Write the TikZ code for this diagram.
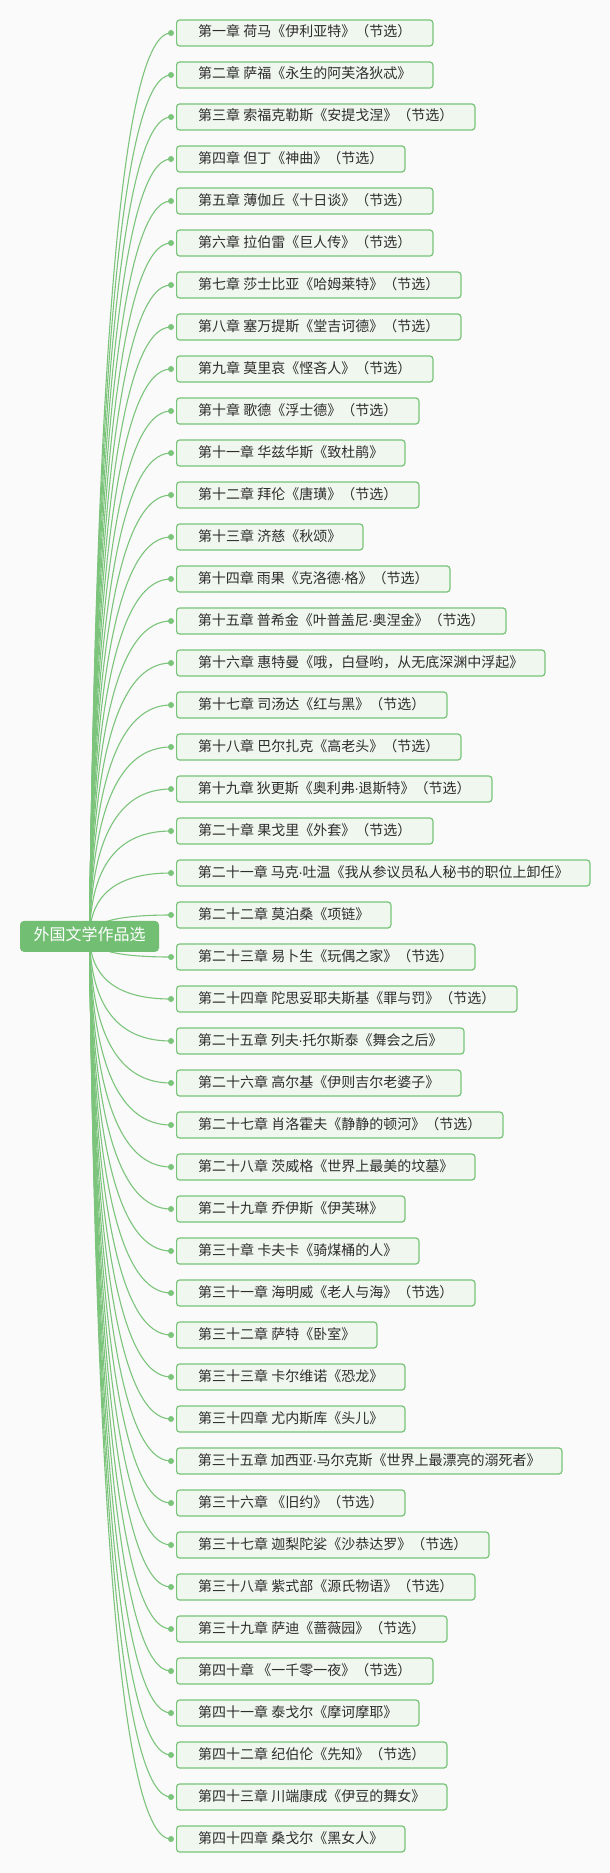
\documentclass[tikz,border=0pt]{standalone}
\usepackage{fontspec}
\setmainfont{Noto Sans CJK SC}
\newfontfamily\latinfont{Liberation Sans}
\newcommand\zdot{{\latinfont\kern-0.5pt·\kern-0.5pt}}
\usetikzlibrary{backgrounds}
\definecolor{bgcol}{RGB}{250,250,250}
\definecolor{conncol}{RGB}{124,196,124}
\definecolor{boxline}{RGB}{120,196,120}
\definecolor{boxfill}{RGB}{240,247,238}
\definecolor{rootfill}{RGB}{114,191,116}
\definecolor{txtcol}{RGB}{45,45,45}
\pgfdeclarelayer{bglayer}
\pgfdeclarelayer{lines}
\pgfsetlayers{bglayer,lines,main}
\tikzset{
  chapter/.style={draw=boxline, fill=boxfill, line width=1.2pt, rounded corners=3pt,
    minimum height=26pt, inner sep=0pt, anchor=west, text=txtcol,
    font=\fontsize{14}{16}\selectfont, text height=11pt, text depth=3pt},
  root/.style={fill=rootfill, rounded corners=4pt, minimum width=139pt, minimum height=31pt,
    inner sep=0pt, text=white, font=\fontsize{16}{18}\selectfont, text height=12.5pt, text depth=3.5pt},
  dotnode/.style={circle, fill=conncol, inner sep=0pt, minimum size=6pt},
  conn/.style={draw=conncol, line width=1.1pt}
}
\begin{document}
\begin{tikzpicture}[x=1pt,y=-1pt]
\begin{pgfonlayer}{bglayer}
\fill[bgcol] (0,0) rectangle (610,1873);
\end{pgfonlayer}
\useasboundingbox (0,0) rectangle (610,1873);
\node[root] (c) at (89.5,936.4) {外国文学作品选};
\foreach \i/\w/\t in {
1/432.3/{第一章 荷马《伊利亚特》（节选）},
2/432.3/{第二章 萨福《永生的阿芙洛狄忒》},
3/474.3/{第三章 索福克勒斯《安提戈涅》（节选）},
4/404.3/{第四章 但丁《神曲》（节选）},
5/432.3/{第五章 薄伽丘《十日谈》（节选）},
6/432.3/{第六章 拉伯雷《巨人传》（节选）},
7/460.3/{第七章 莎士比亚《哈姆莱特》（节选）},
8/460.3/{第八章 塞万提斯《堂吉诃德》（节选）},
9/432.3/{第九章 莫里哀《悭吝人》（节选）},
10/418.3/{第十章 歌德《浮士德》（节选）},
11/404.3/{第十一章 华兹华斯《致杜鹃》},
12/418.3/{第十二章 拜伦《唐璜》（节选）},
13/362.3/{第十三章 济慈《秋颂》},
14/449.3/{第十四章 雨果《克洛德\zdot 格》（节选）},
15/505.3/{第十五章 普希金《叶普盖尼\zdot 奥涅金》（节选）},
16/544.3/{第十六章 惠特曼《哦，白昼哟，从无底深渊中浮起》},
17/446.3/{第十七章 司汤达《红与黑》（节选）},
18/460.3/{第十八章 巴尔扎克《高老头》（节选）},
19/491.3/{第十九章 狄更斯《奥利弗\zdot 退斯特》（节选）},
20/432.3/{第二十章 果戈里《外套》（节选）},
21/589.3/{第二十一章 马克\zdot 吐温《我从参议员私人秘书的职位上卸任》},
22/390.3/{第二十二章 莫泊桑《项链》},
23/474.3/{第二十三章 易卜生《玩偶之家》（节选）},
24/516.3/{第二十四章 陀思妥耶夫斯基《罪与罚》（节选）},
25/463.3/{第二十五章 列夫\zdot 托尔斯泰《舞会之后》},
26/460.3/{第二十六章 高尔基《伊则吉尔老婆子》},
27/502.3/{第二十七章 肖洛霍夫《静静的顿河》（节选）},
28/474.3/{第二十八章 茨威格《世界上最美的坟墓》},
29/404.3/{第二十九章 乔伊斯《伊芙琳》},
30/418.3/{第三十章 卡夫卡《骑煤桶的人》},
31/474.3/{第三十一章 海明威《老人与海》（节选）},
32/376.3/{第三十二章 萨特《卧室》},
33/404.3/{第三十三章 卡尔维诺《恐龙》},
34/404.3/{第三十四章 尤内斯库《头儿》},
35/561.3/{第三十五章 加西亚\zdot 马尔克斯《世界上最漂亮的溺死者》},
36/404.3/{第三十六章 《旧约》（节选）},
37/488.3/{第三十七章 迦梨陀娑《沙恭达罗》（节选）},
38/474.3/{第三十八章 紫式部《源氏物语》（节选）},
39/446.3/{第三十九章 萨迪《蔷薇园》（节选）},
40/432.3/{第四十章 《一千零一夜》（节选）},
41/418.3/{第四十一章 泰戈尔《摩诃摩耶》},
42/446.3/{第四十二章 纪伯伦《先知》（节选）},
43/446.3/{第四十三章 川端康成《伊豆的舞女》},
44/404.3/{第四十四章 桑戈尔《黑女人》}}{
  \pgfmathsetmacro{\yy}{33+42*(\i-1)}
  \pgfmathsetmacro{\ww}{\w-176}
  \pgfmathsetmacro{\pa}{90+0.011*abs(\yy-936.4)}
  \pgfmathsetmacro{\cax}{90+2/3*(\pa-90)}
  \pgfmathsetmacro{\cay}{936.4+2/3*(\yy-936.4)}
  \pgfmathsetmacro{\cbx}{171+2/3*(\pa-171)}
  \node[chapter, minimum width=\ww pt] (b\i) at (176,\yy) {\t};
  \node[dotnode] (d\i) at (171,\yy) {};
  \begin{pgfonlayer}{lines}
  \draw[conn] (c.center) .. controls (\cax,\cay) and (\cbx,\yy) .. (d\i.center);
  \end{pgfonlayer}
}
\end{tikzpicture}
\end{document}
